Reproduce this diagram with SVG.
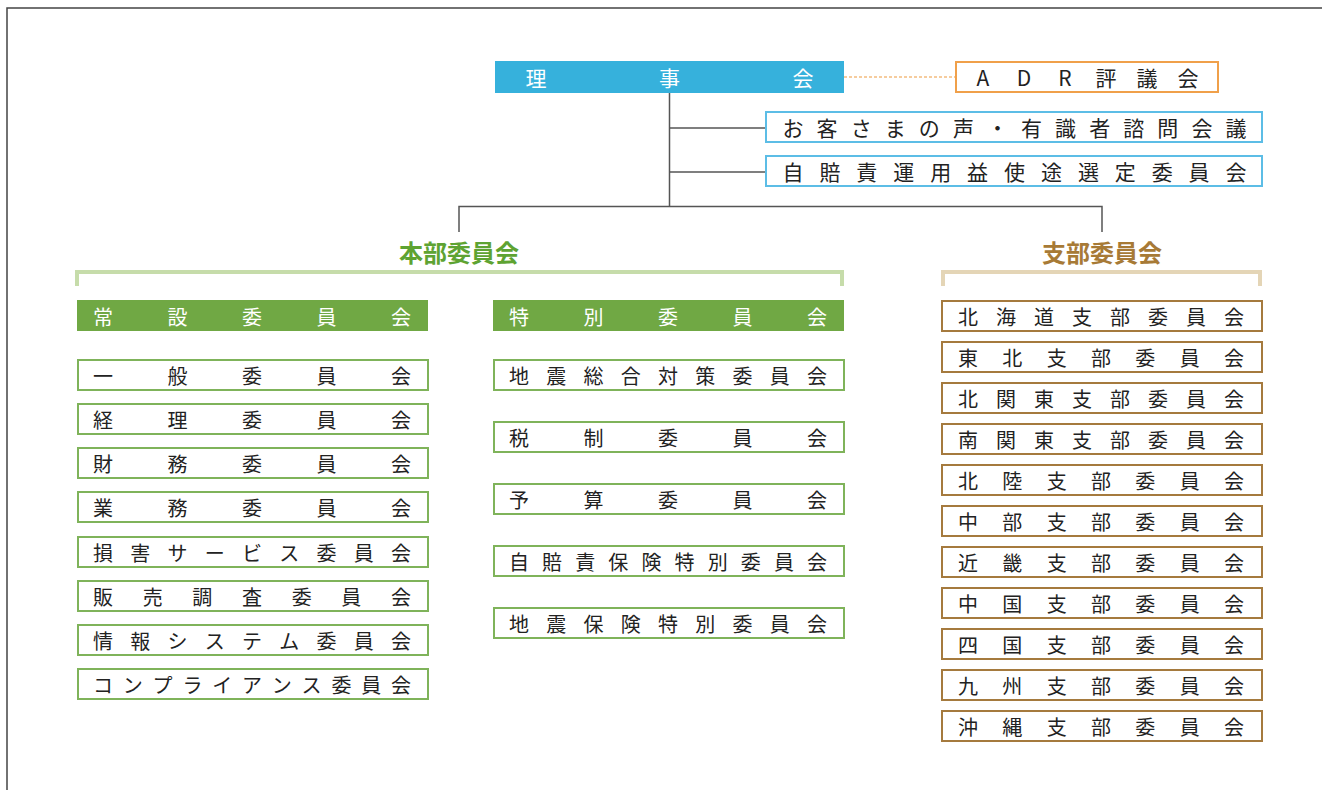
<svg xmlns="http://www.w3.org/2000/svg" width="1322" height="790" viewBox="0 0 1322 790">
<style>
text{font-family:"Noto Sans CJK JP","Noto Sans",sans-serif;font-size:20px;text-anchor:middle;dominant-baseline:central;fill:#222}
.w{fill:#fff}
.big{font-size:21px}
.gbox{fill:#fff;stroke:#7fb35a;stroke-width:2}
.tbox{fill:#fff;stroke:#a57a3e;stroke-width:2}
.bbox{fill:#fff;stroke:#5cbde6;stroke-width:2}
.ghead{fill:#70a844}
.ln{stroke:#555;stroke-width:1.5;fill:none}
.lbl{font-size:24px;font-weight:700}
</style>
<rect x="0" y="0" width="1322" height="790" fill="#fff"/>
<path d="M7 790 V8 H1322" fill="none" stroke="#444" stroke-width="1.5"/>
<g id="connectors">
<path class="ln" d="M669.5 93 V206.5 M669.5 128 H765 M669.5 172 H765 M459 232 V206.5 H1102 V232"/>
<line x1="844" y1="77" x2="955" y2="77" stroke="#ee9a3e" stroke-width="1.2" stroke-dasharray="3,2"/>
<path d="M77 286 V272 H842 V286" fill="none" stroke="#c6dcaa" stroke-width="4"/>
<path d="M943 286 V272 H1260 V286" fill="none" stroke="#e4d5b6" stroke-width="4"/>
</g>
<g id="rijikai"><rect x="495" y="61" width="349" height="32" fill="#36b1dc"/><text class="w big" x="536 669.5 803" y="77">理事会</text></g>
<g id="adr"><rect x="956" y="62" width="262" height="30" fill="#fff" stroke="#f0a04a" stroke-width="2"/><text class="big" x="983 1024 1065 1106 1147 1188" y="77">ADR評議会</text></g>
<g id="okyakusama"><rect class="bbox" x="766" y="112" width="496" height="30"/><text class="big" x="793 827.1 861.2 895.2 929.3 963.4 997.5 1031.5 1065.6 1099.7 1133.8 1167.8 1201.9 1236" y="127">お客さまの声・有識者諮問会議</text></g>
<g id="jibaiseki-unyo"><rect class="bbox" x="766" y="156" width="496" height="30"/><text class="big" x="793 829.9 866.8 903.8 940.7 977.6 1014.5 1051.5 1088.4 1125.3 1162.2 1199.1 1236" y="171">自賠責運用益使途選定委員会</text></g>
<g id="honbu-label"><text class="lbl" x="459" y="251" style="fill:#5ea332">本部委員会</text></g>
<g id="shibu-label"><text class="lbl" x="1102" y="251" style="fill:#a77a36">支部委員会</text></g>
<g id="josetsu"><rect class="ghead" x="77" y="300" width="351" height="31"/><text class="w" x="103 177.5 252 326.5 401" y="316">常設委員会</text></g>
<g id="tokubetsu"><rect class="ghead" x="493" y="300" width="351" height="31"/><text class="w" x="519 593.5 668 742.5 817" y="316">特別委員会</text></g>
<g id="ippan"><rect class="gbox" x="78" y="360" width="350" height="30"/><text x="103 177.5 252 326.5 401" y="375">一般委員会</text></g>
<g id="keiri"><rect class="gbox" x="78" y="404" width="350" height="30"/><text x="103 177.5 252 326.5 401" y="419">経理委員会</text></g>
<g id="zaimu"><rect class="gbox" x="78" y="448" width="350" height="30"/><text x="103 177.5 252 326.5 401" y="463">財務委員会</text></g>
<g id="gyomu"><rect class="gbox" x="78" y="492" width="350" height="30"/><text x="103 177.5 252 326.5 401" y="507">業務委員会</text></g>
<g id="songai"><rect class="gbox" x="78" y="537" width="350" height="30"/><text x="103 140.25 177.5 214.75 252 289.25 326.5 363.75 401" y="552">損害サービス委員会</text></g>
<g id="hanbai"><rect class="gbox" x="78" y="581" width="350" height="30"/><text x="103 152.7 202.3 252 301.7 351.3 401" y="596">販売調査委員会</text></g>
<g id="joho"><rect class="gbox" x="78" y="625" width="350" height="30"/><text x="103 140.25 177.5 214.75 252 289.25 326.5 363.75 401" y="640">情報システム委員会</text></g>
<g id="compliance"><rect class="gbox" x="78" y="669" width="350" height="30"/><text x="103 132.8 162.6 192.4 222.2 252 281.8 311.6 341.4 371.2 401" y="684">コンプライアンス委員会</text></g>
<g id="jishin-sogo"><rect class="gbox" x="494" y="360" width="350" height="30"/><text x="519 556.25 593.5 630.75 668 705.25 742.5 779.75 817" y="375">地震総合対策委員会</text></g>
<g id="zeisei"><rect class="gbox" x="494" y="422" width="350" height="30"/><text x="519 593.5 668 742.5 817" y="437">税制委員会</text></g>
<g id="yosan"><rect class="gbox" x="494" y="484" width="350" height="30"/><text x="519 593.5 668 742.5 817" y="499">予算委員会</text></g>
<g id="jibaiseki-hoken"><rect class="gbox" x="494" y="546" width="350" height="30"/><text x="519 552.1 585.2 618.3 651.4 684.6 717.7 750.8 783.9 817" y="561">自賠責保険特別委員会</text></g>
<g id="jishin-hoken"><rect class="gbox" x="494" y="608" width="350" height="30"/><text x="519 556.25 593.5 630.75 668 705.25 742.5 779.75 817" y="623">地震保険特別委員会</text></g>
<g id="hokkaido"><rect class="tbox" x="942" y="301" width="320" height="30"/><text x="968 1006 1044 1082 1120 1158 1196 1234" y="316">北海道支部委員会</text></g>
<g id="tohoku"><rect class="tbox" x="942" y="342" width="320" height="30"/><text x="968 1012.3 1056.7 1101 1145.3 1189.7 1234" y="357">東北支部委員会</text></g>
<g id="kitakanto"><rect class="tbox" x="942" y="383" width="320" height="30"/><text x="968 1006 1044 1082 1120 1158 1196 1234" y="398">北関東支部委員会</text></g>
<g id="minamikanto"><rect class="tbox" x="942" y="424" width="320" height="30"/><text x="968 1006 1044 1082 1120 1158 1196 1234" y="439">南関東支部委員会</text></g>
<g id="hokuriku"><rect class="tbox" x="942" y="465" width="320" height="30"/><text x="968 1012.3 1056.7 1101 1145.3 1189.7 1234" y="480">北陸支部委員会</text></g>
<g id="chubu"><rect class="tbox" x="942" y="506" width="320" height="30"/><text x="968 1012.3 1056.7 1101 1145.3 1189.7 1234" y="521">中部支部委員会</text></g>
<g id="kinki"><rect class="tbox" x="942" y="547" width="320" height="30"/><text x="968 1012.3 1056.7 1101 1145.3 1189.7 1234" y="562">近畿支部委員会</text></g>
<g id="chugoku"><rect class="tbox" x="942" y="588" width="320" height="30"/><text x="968 1012.3 1056.7 1101 1145.3 1189.7 1234" y="603">中国支部委員会</text></g>
<g id="shikoku"><rect class="tbox" x="942" y="629" width="320" height="30"/><text x="968 1012.3 1056.7 1101 1145.3 1189.7 1234" y="644">四国支部委員会</text></g>
<g id="kyushu"><rect class="tbox" x="942" y="670" width="320" height="30"/><text x="968 1012.3 1056.7 1101 1145.3 1189.7 1234" y="685">九州支部委員会</text></g>
<g id="okinawa"><rect class="tbox" x="942" y="711" width="320" height="30"/><text x="968 1012.3 1056.7 1101 1145.3 1189.7 1234" y="726">沖縄支部委員会</text></g>
</svg>
